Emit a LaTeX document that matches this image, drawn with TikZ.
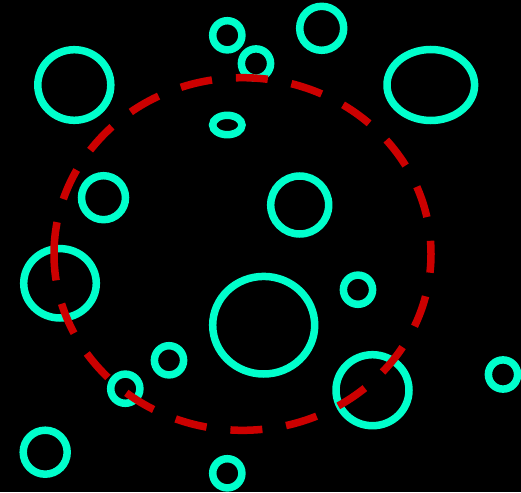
\documentclass[tikz,border=0pt]{standalone}
\begin{document}
\begin{tikzpicture}[x=1pt,y=-1pt,
  bubble/.style={draw={rgb,255:red,0;green,255;blue,204},line width=7.5pt},
  rim/.style={draw={rgb,255:red,204;green,0;blue,0},line width=7.5pt,dash pattern=on 32pt off 24pt}]
\fill[black] (0,0) rectangle (521,492);
\useasboundingbox (0,0) rectangle (521,492);

\draw[bubble] (74.3,85) ellipse[x radius=36.5,y radius=35.3];	\draw[bubble] (430.8,85) ellipse[x radius=43.8,y radius=35.5];
\draw[bubble] (227.3,35.3) circle[radius=14.6];	\draw[bubble] (256,63.5) circle[radius=14.6];	\draw[bubble] (321.7,28.3) circle[radius=22];
\draw[bubble] (227.3,125) ellipse[x radius=14.7,y radius=9.7];
\draw[bubble] (103.5,197.7) circle[radius=22];	\draw[bubble] (299.7,205) circle[radius=29];
\draw[bubble] (60,283.3) ellipse[x radius=36.3,y radius=34.7];	\draw[bubble] (358,289.7) circle[radius=14.6];
\draw[bubble] (263.7,325.2) ellipse[x radius=51,y radius=48.8];
\draw[bubble] (169,360.3) circle[radius=14.6];	\draw[bubble] (125.3,388.7) circle[radius=14.6];
\draw[bubble] (372.5,390.2) ellipse[x radius=36.5,y radius=35.5];	\draw[bubble] (503,374.5) circle[radius=14.6];
\draw[bubble] (45.2,452.2) circle[radius=22];	\draw[bubble] (227.3,473.3) circle[radius=14.6];

\draw[rim] (242.5,254) ++(-188.5,0) arc[start angle=180,end angle=540,x radius=188.5,y radius=176.3];

\end{tikzpicture}
\end{document}
